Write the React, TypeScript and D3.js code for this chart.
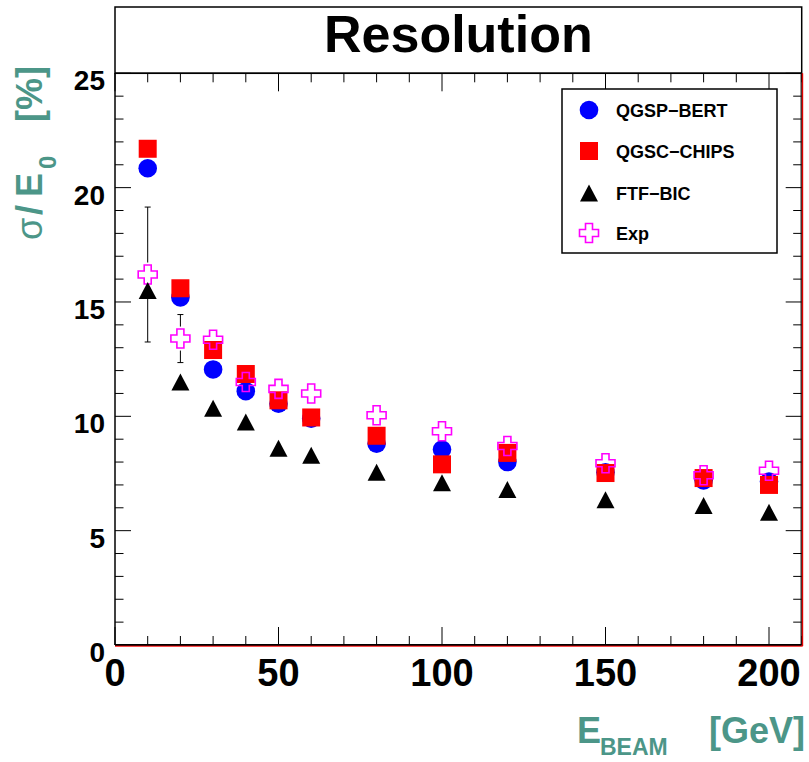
import React from "react";
import * as d3 from "d3";

const energies = [10, 20, 30, 40, 50, 60, 80, 100, 120, 150, 180, 200];
const qgspBert = [20.85, 15.2, 12.05, 11.1, 10.55, 9.9, 8.8, 8.55, 8.0, 7.55, 7.2, 7.15];
const qgscChips = [21.7, 15.6, 12.9, 11.85, 10.7, 9.95, 9.15, 7.9, 8.4, 7.52, 7.3, 7.0];
const ftfBic = [15.5, 11.5, 10.35, 9.75, 8.6, 8.3, 7.55, 7.1, 6.8, 6.35, 6.1, 5.8];
const expVals = [16.2, 13.4, 13.35, 11.5, 11.2, 11.0, 10.05, 9.35, 8.7, 7.95, 7.42, 7.62];
const expErr = [2.95, 1.05, 0.4, 0.35, 0.3, 0.3, 0.3, 0.3, 0.3, 0.25, 0.25, 0.25];
const legendLabels = ["QGSP\u2212BERT", "QGSC\u2212CHIPS", "FTF\u2212BIC", "Exp"];
const xTickLabels = [0, 50, 100, 150, 200];
const yTickLabels = [0, 5, 10, 15, 20, 25];

const FONT = "'Liberation Sans', Arial, Helvetica, sans-serif";
const TEAL = "#4c9688";

const L = 115, R = 801.7, T = 73.3, B = 645;
const x = d3.scaleLinear().domain([0, 210]).range([L, R]);
const y = d3.scaleLinear().domain([0, 25]).range([B, T]);

const Circle = ({ cx, cy }: { cx: number; cy: number }) => (
  <circle cx={cx} cy={cy} r={9.3} fill="#0000ff" />
);
const Square = ({ cx, cy }: { cx: number; cy: number }) => (
  <rect x={cx - 9} y={cy - 9} width={18} height={18} fill="#ff0000" />
);
const Tri = ({ cx, cy }: { cx: number; cy: number }) => (
  <path d={`M${cx - 9},${cy + 8.5}L${cx + 9},${cy + 8.5}L${cx},${cy - 8.5}Z`} fill="#000" />
);
const Cross = ({ cx, cy }: { cx: number; cy: number }) => {
  const a = 9.5, b = 3.5;
  const d = `M${cx - b},${cy - a}H${cx + b}V${cy - b}H${cx + a}V${cy + b}H${cx + b}V${cy + a}H${cx - b}V${cy + b}H${cx - a}V${cy - b}H${cx - b}Z`;
  return <path d={d} fill="none" stroke="#ff00ff" strokeWidth={1.6} />;
};

export default function App() {
  const xMinor = d3.range(0, 211, 10);
  const yMinor = d3.range(0, 26, 1);
  return (
    <svg width={809} height={762} style={{ display: "block", position: "absolute", left: 0, top: 0 }}>
      <rect x={0} y={0} width={809} height={762} fill="#fff" />
      {/* title box */}
      <rect x={L} y={7} width={R - L} height={T - 7} fill="#fff" stroke="#000" strokeWidth={1.5} />
      <text x={(L + R) / 2} y={52} textAnchor="middle" fontFamily={FONT} fontWeight="bold" fontSize={52}>Resolution</text>

      {/* ticks */}
      {xMinor.map((v) => {
        const len = v % 50 === 0 ? 18 : 9;
        return (
          <g key={"xt" + v}>
            <line x1={x(v)} x2={x(v)} y1={B} y2={B - len} stroke="#000" strokeWidth={1} />
            <line x1={x(v)} x2={x(v)} y1={T} y2={T + len} stroke="#000" strokeWidth={1} />
          </g>
        );
      })}
      {yMinor.map((v) => {
        const len = v % 5 === 0 ? 16 : 8.5;
        return (
          <g key={"yt" + v}>
            <line x1={L} x2={L + len} y1={y(v)} y2={y(v)} stroke="#000" strokeWidth={1} />
            <line x1={R} x2={R - len} y1={y(v)} y2={y(v)} stroke="#000" strokeWidth={1} />
          </g>
        );
      })}

      {/* frame */}
      <line x1={L} x2={L} y1={T} y2={B} stroke="#000" strokeWidth={1.5} />
      <line x1={L} x2={R} y1={T} y2={T} stroke="#000" strokeWidth={1.5} />
      <line x1={L} x2={R} y1={B} y2={B} stroke="#000" strokeWidth={2} />
      <line x1={L} x2={R + 1} y1={B + 1.2} y2={B + 1.2} stroke="#ff0000" strokeWidth={1} />
      <line x1={R - 0.5} x2={R - 0.5} y1={T} y2={B} stroke="#000" strokeWidth={1.2} />
      <line x1={R + 0.8} x2={R + 0.8} y1={T} y2={B + 1} stroke="#e00000" strokeWidth={1.4} />

      {/* tick labels */}
      {xTickLabels.map((v) => (
        <text key={"xl" + v} x={x(v)} y={686} textAnchor="middle" fontFamily={FONT} fontWeight="bold" fontSize={38}>{v}</text>
      ))}
      {yTickLabels.map((v) => (
        <text key={"yl" + v} x={105} y={y(v) + 17} textAnchor="end" fontFamily={FONT} fontWeight="bold" fontSize={28}>{v}</text>
      ))}

      {/* axis titles */}
      <g fill={TEAL} fontFamily={FONT} fontWeight="bold">
        <text x={577} y={743} fontSize={36}>E</text>
        <text x={600} y={755} fontSize={23}>BEAM</text>
        <text x={805} y={743} fontSize={36} textAnchor="end">[GeV]</text>
      </g>
      <g transform="translate(42,240) rotate(-90)" fill={TEAL} fontFamily={FONT} fontWeight="bold">
        <text x={0} y={0} fontSize={36} fontWeight="normal">σ</text>
        <text x={25} y={0} fontSize={36}>/</text>
        <text x={43} y={0} fontSize={36}>E</text>
        <text x={71} y={14} fontSize={24}>0</text>
        <text x={118} y={0} fontSize={36}>[%]</text>
      </g>

      {/* data */}
      {energies.map((e, i) => <Circle key={"c" + i} cx={x(e)} cy={y(qgspBert[i])} />)}
      {energies.map((e, i) => <Square key={"s" + i} cx={x(e)} cy={y(qgscChips[i])} />)}
      {energies.map((e, i) => {
        const cx = x(e), cy = y(expVals[i]);
        const top = y(expVals[i] + expErr[i]);
        const bot = y(expVals[i] - expErr[i]);
        const gap = 12;
        return (
          <g key={"e" + i}>
            {top < cy - gap && (
              <g>
                <line x1={cx} x2={cx} y1={top} y2={cy - gap} stroke="#000" strokeWidth={1} />
                <line x1={cx - 3} x2={cx + 3} y1={top} y2={top} stroke="#000" strokeWidth={1} />
              </g>
            )}
            {bot > cy + gap && (
              <g>
                <line x1={cx} x2={cx} y1={cy + gap} y2={bot} stroke="#000" strokeWidth={1} />
                <line x1={cx - 3} x2={cx + 3} y1={bot} y2={bot} stroke="#000" strokeWidth={1} />
              </g>
            )}
            <Cross cx={cx} cy={cy} />
          </g>
        );
      })}
      {energies.map((e, i) => <Tri key={"t" + i} cx={x(e)} cy={y(ftfBic[i])} />)}

      {/* legend */}
      <rect x={562} y={89} width={215} height={164} fill="#fff" stroke="#000" strokeWidth={1.5} />
      {legendLabels.map((lab, i) => {
        const ry = [110, 151, 193, 233][i];
        return (
          <g key={"lg" + i}>
            {i === 0 && <Circle cx={589} cy={ry} />}
            {i === 1 && <Square cx={589} cy={ry} />}
            {i === 2 && <Tri cx={589} cy={ry} />}
            {i === 3 && <Cross cx={589} cy={ry} />}
            <text x={616} y={ry + 6.5} fontFamily={FONT} fontWeight="bold" fontSize={18}>{lab}</text>
          </g>
        );
      })}
    </svg>
  );
}
